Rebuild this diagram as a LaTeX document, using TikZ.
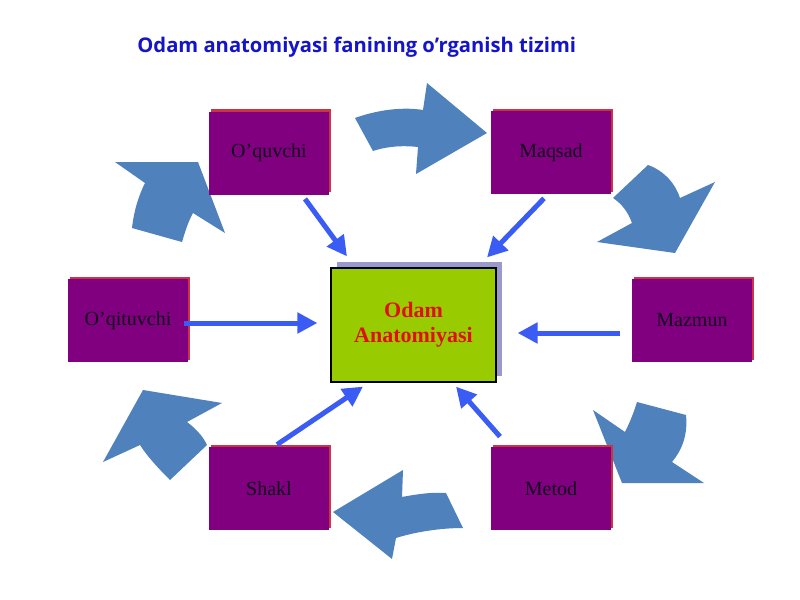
\documentclass[tikz,border=0pt]{standalone}
\usepackage{fontspec}
\setmainfont{Liberation Serif}
\newfontfamily\titlefont{Open Sans}
\usetikzlibrary{arrows.meta,calc,shadows}
\definecolor{boxpurple}{HTML}{800080}
\definecolor{boxshadow}{HTML}{CC3344}
\definecolor{centerfill}{HTML}{99CC00}
\definecolor{centershadow}{HTML}{9999CC}
\definecolor{blockblue}{HTML}{4F81BD}
\definecolor{linkblue}{HTML}{3A5CF5}
\definecolor{titleblue}{HTML}{1414C8}
\definecolor{labeldark}{HTML}{14061E}
\definecolor{centertext}{HTML}{E01010}
\begin{document}
\begin{tikzpicture}[x=0.5pt,y=-0.5pt,
  topic/.style={fill=boxpurple, minimum width=60pt, minimum height=41.5pt,
    inner sep=0pt, font=\fontsize{10}{12}\selectfont, text=labeldark,
    general shadow={fill=boxshadow, shadow xshift=1.1pt, shadow yshift=1.1pt}},
  core/.style={fill=centerfill, draw=black, line width=0.6pt,
    minimum width=82.5pt, minimum height=57pt, inner sep=0pt, align=center,
    font=\fontsize{11}{12.5}\selectfont\bfseries, text=centertext,
    general shadow={fill=centershadow, shadow xshift=3pt, shadow yshift=3pt}},
  link/.style={draw=linkblue, line width=2.5pt, -{Triangle[length=10pt,width=10pt]}},
  blockarrow/.style={fill=blockblue, draw=none},
  heading/.style={font=\titlefont\bfseries\fontsize{10.1}{12}\selectfont, text=titleblue, inner sep=0pt}]
\path[use as bounding box, fill=white] (0,0) rectangle (800,600);

\node[heading, anchor=base west] (title) at (137,52) {Odam anatomiyasi fanining o’rganish tizimi};

% curved block arrows (clockwise cycle)
\path[blockarrow] (355,118) .. controls (380,109) and (405,107) .. (423,110) -- (427,83) -- (487,133)
  -- (416,174) -- (418,147) .. controls (400,145) and (385,147) .. (373,151) -- cycle;
\path[blockarrow] (648,165) .. controls (665,171) and (676,185) .. (680,198) -- (715,182) -- (675,253)
  -- (597,242) -- (632,223) .. controls (628,212) and (622,204) .. (613,198) -- cycle;
\path[blockarrow] (637,402) -- (686,415) .. controls (688,435) and (682,450) .. (672,462) -- (704,483)
  -- (622,483) -- (593,410) -- (625,432) .. controls (630,422) and (634,412) .. (637,402) -- cycle;
\path[blockarrow] (333,512) -- (403,470) -- (402,497) .. controls (418,494) and (432,492) .. (446,493)
  -- (463,528) .. controls (440,528) and (415,532) .. (396,538) -- (392,559) -- cycle;
\path[blockarrow] (143,390) -- (222,403) -- (187,422) .. controls (195,428) and (203,436) .. (207,445)
  -- (170,480) .. controls (158,468) and (147,456) .. (140,445) -- (103,462) -- cycle;
\path[blockarrow] (115,162) -- (198,162) -- (225,233) -- (193,213) .. controls (188,222) and (185,232) .. (182,242)
  -- (132,228) .. controls (134,210) and (139,195) .. (145,183) -- cycle;

% boxes
\node[topic] (oq) at (269,153) {O’quvchi};
\node[topic] (mq) at (551,152.5) {Maqsad};
\node[topic] (mz) at (692,320.5) {Mazmun};
\node[topic] (oqt) at (128,320.5) {O’qituvchi};
\node[topic] (sh) at (269,488.5) {Shakl};
\node[topic] (mt) at (551,488.5) {Metod};
\node[core] (c) at (413.5,325) {Odam\\Anatomiyasi};

% straight connectors
\draw[link] ($(oq.south)+(36,4)$) -- ($(c.north)+(-66.5,-11)$);
\draw[link] ($(mq.south)+(-7,4)$) -- ($(c.north)+(73.5,-10)$);
\draw[link] ($(mz.west)+(-12,12.5)$) -- ($(c.east)+(21,8)$);
\draw[link] ($(oqt.east)+(-4,2.5)$) -- ($(c.west)+(-13,-2)$);
\draw[link] ($(sh.north)+(8,-2)$) -- ($(c.south)+(-50.5,4)$);
\draw[link] ($(mt.north)+(-51,-10)$) -- ($(c.south)+(42.5,4)$);
\end{tikzpicture}
\end{document}
